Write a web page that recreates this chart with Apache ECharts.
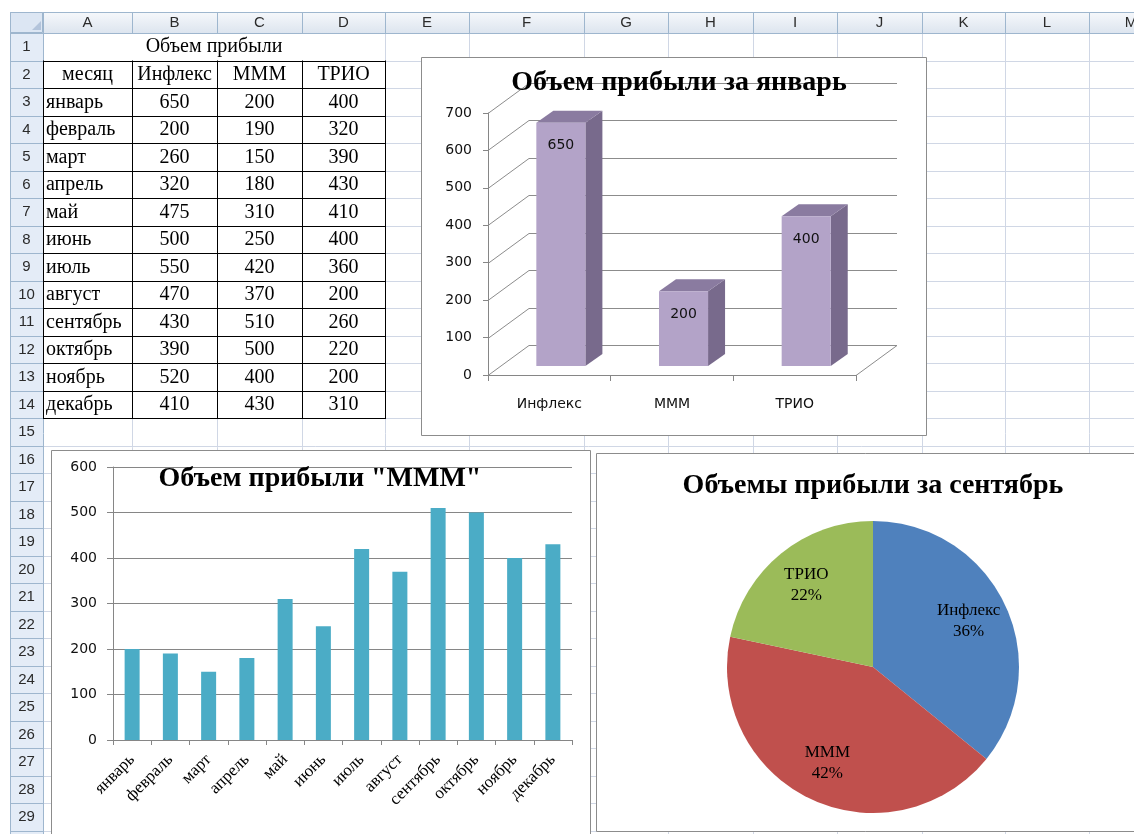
<!DOCTYPE html>
<html><head><meta charset="utf-8">
<script src="https://cdn.jsdelivr.net/npm/echarts@6/dist/echarts.min.js"></script>
<style>html,body{margin:0;padding:0;background:#fff}#c{width:1134px;height:834px}</style>
</head><body><div id="c"></div>
<script>
// ---------- data ----------
const months = ['январь','февраль','март','апрель','май','июнь','июль','август','сентябрь','октябрь','ноябрь','декабрь'];
const companies = ['Инфлекс','МММ','ТРИО'];
const inflex = [650,200,260,320,475,500,550,470,430,390,520,410];
const mmm    = [200,190,150,180,310,250,420,370,510,500,400,430];
const trio   = [400,320,390,430,410,400,360,200,260,220,200,310];
const sheetTitle = 'Объем прибыли';
const monthHeader = 'месяц';
const colLetters = ['A','B','C','D','E','F','G','H','I','J','K','L','M'];
const janTicks = [0,100,200,300,400,500,600,700];
const janTitle = 'Объем прибыли за январь';
const mmmTitle = 'Объем прибыли "МММ"';
const sepTitle = 'Объемы прибыли за сентябрь';
const pieColors = ['#4F81BD','#C0504D','#9BBB59'];

const series3 = [inflex, mmm, trio];
const janValues = series3.map(s => s[0]);
const sepValues = series3.map(s => s[8]);

// ---------- layout ----------
const SERIF = '"Liberation Serif","Times New Roman",serif';
const SANS = '"Liberation Sans",Arial,sans-serif';
const CSANS = '"DejaVu Sans",sans-serif';
const colX = [43,132,217,302,385,469,584,668,753,837,922,1005,1089,1173];
const ROW0 = 33, ROW_H = 27.5;
const rowY = r => ROW0 + (r - 1) * ROW_H;
const px = v => Math.round(v) + 0.5;

const g = [];
function line(x1,y1,x2,y2,color,w,z){ g.push({type:'line', z:z, silent:true, shape:{x1:x1,y1:y1,x2:x2,y2:y2}, style:{stroke:color, lineWidth:w||1}}); }
function rect(x,y,w,h,fill,stroke,z){ g.push({type:'rect', z:z, silent:true, shape:{x:x,y:y,width:w,height:h}, style:{fill:fill, stroke:stroke||null, lineWidth:1}}); }
function text(x,y,t,font,align,fill,z){ g.push({type:'text', z:z, silent:true, x:x, y:y, style:{text:String(t), font:font, fill:fill||'#000', align:align, textAlign:align, verticalAlign:'middle', textVerticalAlign:'middle'}}); }

// sheet gridlines
const GRID_C = '#D0D7E5', HDR_B = '#9EB6CE';
for (let i = 1; i < colX.length; i++) {
  const merged = (i >= 1 && i <= 3);
  line(px(colX[i]), merged ? rowY(2) : 33, px(colX[i]), 834, GRID_C, 1, -30);
}
for (let r = 2; r <= 30; r++) line(43, px(rowY(r)), 1134, px(rowY(r)), GRID_C, 1, -30);

// column header
g.push({type:'rect', z:-25, silent:true, shape:{x:10,y:12,width:1124,height:21},
  style:{fill:new echarts.graphic.LinearGradient(0,0,0,1,[{offset:0,color:'#F6F8FB'},{offset:1,color:'#DDE5EF'}]), stroke:null}});
line(10, 12.5, 1134, 12.5, HDR_B, 1, -24);
line(10, 33.5, 1134, 33.5, HDR_B, 1, -24);
for (let i = 0; i < colX.length; i++) line(px(colX[i]), 12, px(colX[i]), 33, HDR_B, 1, -24);
for (let i = 0; i < colLetters.length; i++) text((colX[i] + colX[i+1]) / 2, 23, colLetters[i], '15px ' + SANS, 'center', '#2b2b2b', -24);

// row header
rect(10, 33, 33, 801, '#E4ECF7', null, -25);
line(10.5, 12, 10.5, 834, HDR_B, 1, -24);
line(43.5, 33, 43.5, 834, HDR_B, 1, -24);
for (let r = 2; r <= 31; r++) line(10, px(rowY(r)), 43, px(rowY(r)), HDR_B, 1, -24);
for (let r = 1; r <= 30; r++) text(26.5, rowY(r) + ROW_H / 2 + 0.5, r, '15px ' + SANS, 'center', '#2b2b2b', -24);

// corner cell
rect(10.5, 12.5, 32, 20, '#DCE6F3', HDR_B, -24);
g.push({type:'polygon', z:-23, silent:true, shape:{points:[[41,21],[41,30],[32,30]]}, style:{fill:'#B3C4DB'}});

// table
const TF = '20px ' + SERIF;
text((colX[0] + colX[4]) / 2, rowY(1) + 14, sheetTitle, TF, 'center', '#000', -20);
text((colX[0] + colX[1]) / 2, rowY(2) + 14.5, monthHeader, TF, 'center', '#000', -20);
companies.forEach((c, j) => text((colX[j+1] + colX[j+2]) / 2, rowY(2) + 14.5, c, TF, 'center', '#000', -20));
months.forEach((m, i) => {
  const yy = rowY(3 + i) + 14.5;
  text(colX[0] + 3, yy, m, TF, 'left', '#000', -20);
  series3.forEach((s, j) => text((colX[j+1] + colX[j+2]) / 2, yy, s[i], TF, 'center', '#000', -20));
});
for (let r = 2; r <= 15; r++) line(colX[0], px(rowY(r)), colX[4] + 1, px(rowY(r)), '#000', 1, -19);
for (let i = 0; i <= 4; i++) line(px(colX[i]), rowY(2), px(colX[i]), rowY(15) + 1, '#000', 1, -19);

// chart boxes
rect(421.5, 57.5, 505, 378, '#fff', '#8C8C8C', -10);
rect(51.5, 450.5, 539, 400, '#fff', '#8C8C8C', -10);
rect(596.5, 453.5, 560, 378, '#fff', '#8C8C8C', -10);

// chart titles
const TT = 'bold 28px ' + SERIF;
text(679, 83, janTitle, TT, 'center', '#000', 20);
text(320, 479, mmmTitle, TT, 'center', '#000', 20);
text(873, 486, sepTitle, TT, 'center', '#000', 20);

// ---------- 3D-like rendering helpers ----------
const DX = 41, DY = -30;
function gridRender(params, api) {
  const v = api.value(1);
  const p = api.coord([0, v]);
  const band = api.size([1, 0])[0];
  const xl = p[0] - band / 2, xr = xl + band * companies.length, y = Math.round(p[1]) + 0.5;
  const st = {stroke:'#8C8C8C', lineWidth:1, fill:null};
  const children = [{type:'polyline', shape:{points:[[xl,y],[xl+DX,y+DY],[xr+DX,y+DY]]}, style:st}];
  if (v === 0) children.push({type:'line', shape:{x1:xr,y1:y,x2:xr+DX,y2:y+DY}, style:st});
  return {type:'group', children:children};
}
function barRender(params, api) {
  const idx = api.value(0), val = api.value(1);
  const base = api.coord([idx, 0]), top = api.coord([idx, val]);
  const band = api.size([1, 0])[0];
  const bw = band * 0.4, ox = band * 0.094, oy = -9, sx = 17, sy = -12;
  const x0 = base[0] - bw / 2 + ox, x1 = x0 + bw, yb = base[1] + oy, yt = top[1] + oy;
  return {type:'group', children:[
    {type:'polygon', shape:{points:[[x1,yb],[x1+sx,yb+sy],[x1+sx,yt+sy],[x1,yt]]}, style:{fill:'#786A8C'}},
    {type:'polygon', shape:{points:[[x0,yt],[x0+sx,yt+sy],[x1+sx,yt+sy],[x1,yt]]}, style:{fill:'#8A7BA0'}},
    {type:'rect', shape:{x:x0,y:yt,width:bw,height:yb-yt}, style:{fill:'#B3A3C8'}},
    {type:'text', x:(x0+x1)/2, y:yt+23, style:{text:String(val), font:'14px ' + CSANS, fill:'#111', align:'center', verticalAlign:'middle'}}
  ]};
}

const axisGray = {lineStyle:{color:'#868686', width:1}};
const pieData = companies.map((n, i) => ({name:n, value:sepValues[i], itemStyle:{color:pieColors[i]}}));

const chart = echarts.init(document.getElementById('c'), null, {renderer:'canvas', width:1134, height:834});
chart.setOption({
  animation:false,
  backgroundColor:'#fff',
  graphic:{elements:g},
  grid:[
    {left:488, top:113, width:368, height:262},
    {left:113, top:467, width:459, height:273}
  ],
  xAxis:[
    {gridIndex:0, type:'category', data:companies, boundaryGap:true, axisLine:axisGray,
     axisTick:{show:true, length:6, lineStyle:{color:'#868686'}},
     axisLabel:{margin:22, color:'#111', fontFamily:CSANS, fontSize:14}},
    {gridIndex:1, type:'category', data:months, boundaryGap:true, axisLine:axisGray,
     axisTick:{show:true, length:5, lineStyle:{color:'#868686'}},
     axisLabel:{rotate:45, margin:17, interval:0, color:'#000', fontFamily:SERIF, fontSize:17}}
  ],
  yAxis:[
    {gridIndex:0, type:'value', min:0, max:700, interval:100, axisLine:{show:true, lineStyle:{color:'#868686'}},
     axisTick:{show:true, length:5, lineStyle:{color:'#868686'}}, splitLine:{show:false},
     axisLabel:{margin:16, color:'#111', fontFamily:CSANS, fontSize:14}},
    {gridIndex:1, type:'value', min:0, max:600, interval:100, axisLine:{show:true, lineStyle:{color:'#868686'}},
     axisTick:{show:true, length:6, lineStyle:{color:'#868686'}}, splitLine:{show:true, lineStyle:{color:'#868686'}},
     axisLabel:{margin:16, color:'#111', fontFamily:CSANS, fontSize:14}}
  ],
  series:[
    {type:'custom', xAxisIndex:0, yAxisIndex:0, data:janTicks.map(v => [0, v]), renderItem:gridRender, silent:true, clip:false, z:1},
    {type:'custom', xAxisIndex:0, yAxisIndex:0, data:janValues.map((v, i) => [i, v]), renderItem:barRender, silent:true, clip:false, z:3},
    {type:'bar', xAxisIndex:1, yAxisIndex:1, data:mmm, barWidth:15, itemStyle:{color:'#4BACC6'}, silent:true},
    {type:'pie', center:[873,667], radius:146, startAngle:90, clockwise:true, data:pieData,
     label:{show:false}, labelLine:{show:false}, silent:true, itemStyle:{borderWidth:0}},
    {type:'pie', center:[873,667], radius:[60,146], startAngle:90, clockwise:true, percentPrecision:0,
     data:companies.map((n, i) => ({name:n, value:sepValues[i]})),
     itemStyle:{color:'rgba(0,0,0,0)', borderWidth:0},
     label:{show:true, position:'inside', formatter:'{b}\n{d}%', fontFamily:SERIF, fontSize:17, lineHeight:21, color:'#000'},
     labelLine:{show:false}, silent:true, z:4}
  ]
});
</script>
</body></html>
